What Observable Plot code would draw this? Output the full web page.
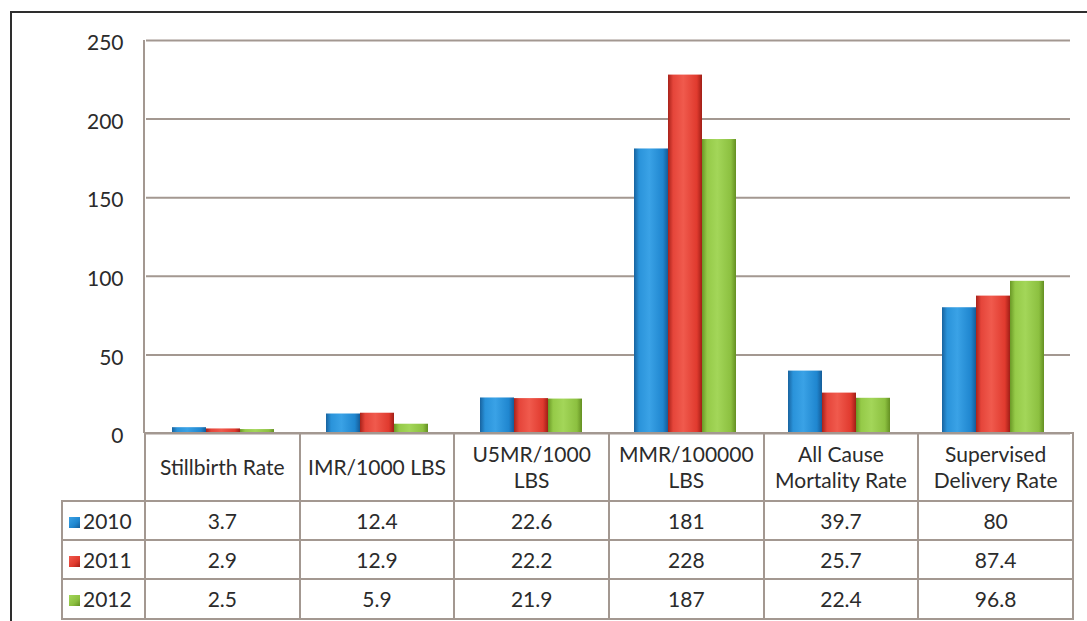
<!DOCTYPE html>
<html>
<head>
<meta charset="utf-8">
<script src="https://cdn.jsdelivr.net/npm/d3@7"></script>
<script src="https://cdn.jsdelivr.net/npm/@observablehq/plot@0.6"></script>
<style>
  html, body { margin: 0; padding: 0; background: #fff; overflow: hidden; }
  body { width: 1087px; height: 621px; position: relative; font-family: Lato, "Open Sans", sans-serif; color: #2b2b2b; }
  #frame { position: absolute; left: 10px; top: 11px; width: 1200px; height: 700px; border: 2px solid #2e2e2e; }
  #chart { position: absolute; left: 0; top: 0; }
  #table { position: absolute; border-collapse: collapse; table-layout: fixed; font-size: 21px; color: #2b2b2b; }
  #table td { border: 2px solid #a39891; text-align: center; padding: 0 3px; line-height: 26px; }
  #table td.blank { border-top: none; border-left: none; }
  #table td.leg { text-align: left; padding-left: 6px; }
  .sw { display: inline-block; width: 11px; height: 11px; margin-right: 3px; vertical-align: 1px; }
</style>
</head>
<body>
<div id="frame"></div>
<div id="chart"></div>
<table id="table"></table>
<script>
const categories = ["Stillbirth Rate", "IMR/1000 LBS", "U5MR/1000 LBS", "MMR/100000 LBS", "All Cause Mortality Rate", "Supervised Delivery Rate"];
const years = ["2010", "2011", "2012"];
const values2010 = [3.7, 12.4, 22.6, 181, 39.7, 80];
const values2011 = [2.9, 12.9, 22.2, 228, 25.7, 87.4];
const values2012 = [2.5, 5.9, 21.9, 187, 22.4, 96.8];
const yTicks = [0, 50, 100, 150, 200, 250];

const seriesValues = [values2010, values2011, values2012];
const gradStops = {
  "2010": ["#18639f", "#2a93da", "#3aa2e6", "#1f86cf", "#155c98"],
  "2011": ["#a8221a", "#e5453a", "#f05a4d", "#e03a2e", "#a01e16"],
  "2012": ["#6a9826", "#95ca48", "#a3d659", "#8cc040", "#648f22"]
};

const data = years.flatMap((yr, j) => categories.map((c, i) => ({category: c, year: yr, value: seriesValues[j][i]})));

const W = 1087, ML = 144, MR = 15, MT = 40, H = 434, MB = 1;

const chart = Plot.plot({
  width: W, height: H,
  marginLeft: ML, marginRight: MR, marginTop: MT, marginBottom: MB,
  style: {fontFamily: "Lato, 'Open Sans', sans-serif", fontSize: "21px", color: "#2b2b2b", background: "transparent", overflow: "visible"},
  fx: {domain: categories, padding: 0, axis: null},
  x: {domain: years, paddingInner: 0, paddingOuter: 0.705, axis: null},
  y: {domain: [0, 250], label: null},
  color: {type: "identity"},
  marks: [
    Plot.ruleY(yTicks, {stroke: "#a39891", strokeWidth: 2}),
    Plot.barY(data, {fx: "category", x: "year", y: "value", fill: d => `url(#grad${d.year})`}),
    Plot.axisY(yTicks, {tickSize: 0, tickPadding: 23, dy: 3, label: null})
  ]
});

// gradients
const ns = "http://www.w3.org/2000/svg";
const svgEl = chart.tagName.toLowerCase() === "svg" ? chart : chart.querySelector("svg");
const defs = document.createElementNS(ns, "defs");
const offs = [0, 0.15, 0.45, 0.85, 1];
for (const yr of years) {
  const g = document.createElementNS(ns, "linearGradient");
  g.setAttribute("id", "grad" + yr);
  g.setAttribute("x1", "0"); g.setAttribute("x2", "1"); g.setAttribute("y1", "0"); g.setAttribute("y2", "0");
  gradStops[yr].forEach((c, k) => {
    const s = document.createElementNS(ns, "stop");
    s.setAttribute("offset", offs[k]);
    s.setAttribute("stop-color", c);
    g.appendChild(s);
  });
  defs.appendChild(g);
}
svgEl.insertBefore(defs, svgEl.firstChild);
document.getElementById("chart").appendChild(chart);

// left axis line (domain) using the y scale
const yScale = chart.scale("y");
const axisLine = document.createElementNS(ns, "line");
axisLine.setAttribute("x1", ML); axisLine.setAttribute("x2", ML);
axisLine.setAttribute("y1", yScale.apply(250)); axisLine.setAttribute("y2", yScale.apply(0));
axisLine.setAttribute("stroke", "#a39891"); axisLine.setAttribute("stroke-width", 2);
svgEl.appendChild(axisLine);

// data table
const colW = (W - ML - MR) / categories.length;
const legW = 83;
const tbl = document.getElementById("table");
tbl.style.left = (ML - legW) + "px";
tbl.style.top = (yScale.apply(0) - 1) + "px";
tbl.style.width = (legW + colW * categories.length) + "px";
const cg = document.createElement("colgroup");
const c0 = document.createElement("col"); c0.style.width = legW + "px"; cg.appendChild(c0);
categories.forEach(() => { const c = document.createElement("col"); c.style.width = colW + "px"; cg.appendChild(c); });
tbl.appendChild(cg);
const hr = tbl.insertRow();
hr.style.height = "68px";
const blank = hr.insertCell(); blank.className = "blank";
categories.forEach(c => { const td = hr.insertCell(); td.textContent = c; });
years.forEach((yr, j) => {
  const r = tbl.insertRow();
  r.style.height = j === 2 ? "40px" : "39px";
  const lc = r.insertCell(); lc.className = "leg";
  const sw = document.createElement("span"); sw.className = "sw";
  const st = gradStops[yr];
  sw.style.background = `linear-gradient(135deg, ${st[2]}, ${st[3]} 60%, ${st[4]})`;
  lc.appendChild(sw);
  lc.appendChild(document.createTextNode(yr));
  seriesValues[j].forEach(v => { const td = r.insertCell(); td.textContent = String(v); });
});
</script>
</body>
</html>
